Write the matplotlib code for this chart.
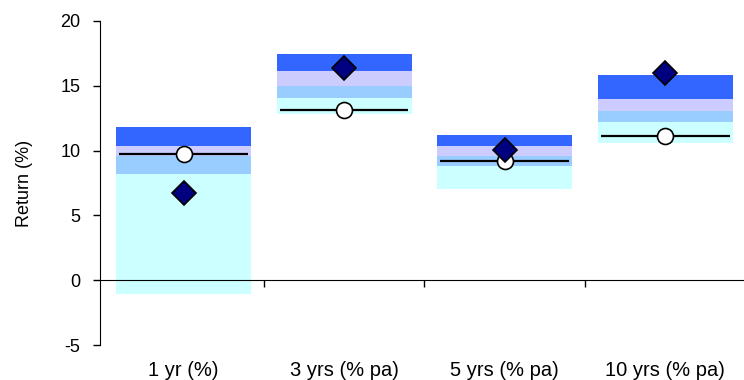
import numpy as np
import matplotlib.pyplot as plt

plt.rcParams["font.family"] = ["Liberation Sans", "DejaVu Sans"]
plt.rcParams["axes.unicode_minus"] = False

categories = ["1 yr (%)", "3 yrs (% pa)", "5 yrs (% pa)", "10 yrs (% pa)"]
# band edges: bottom, q1, median band, q3, top
bottom = [-1.1, 12.8, 7.07, 10.55]
edge1 = [8.18, 14.07, 8.80, 12.22]
edge2 = [9.59, 14.99, 9.59, 13.04]
edge3 = [10.36, 16.18, 10.36, 14.02]
top = [11.83, 17.44, 11.19, 15.82]
median = [9.77, 13.14, 9.21, 11.14]
fund = [6.69, 16.38, 10.08, 16.02]

band_colors = ["#CCFFFF", "#99CCFF", "#CCCCFF", "#3366FF"]

fig = plt.figure(figsize=(7.44, 3.8), dpi=100)
ax = fig.add_axes([100 / 744, 35 / 380, 644 / 744, 324 / 380])

x = np.arange(1, len(categories) + 1)
edges = [bottom, edge1, edge2, edge3, top]
for i in range(4):
    lo = np.array(edges[i])
    hi = np.array(edges[i + 1])
    ax.bar(x, hi - lo, bottom=lo, width=0.84, color=band_colors[i], linewidth=0, zorder=1)

ax.hlines(median, x - 0.4, x + 0.4, colors="black", linewidth=1.6, zorder=2)
ax.plot(x, median, "o", color="white", markeredgecolor="black", markeredgewidth=1.2,
        markersize=11.5, linestyle="none", zorder=3)
ax.plot(x, fund, "D", color="#000080", markeredgecolor="black", markeredgewidth=1.2,
        markersize=12, linestyle="none", zorder=4)

ax.set_xlim(0.48, 4.49)
ax.set_ylim(-5, 20)
ax.set_yticks([-5, 0, 5, 10, 15, 20])
ax.tick_params(axis="y", direction="out", length=5, labelsize=13, pad=9, width=1)
ax.set_ylabel("Return (%)", fontsize=13, labelpad=20)

ax.spines["top"].set_visible(False)
ax.spines["right"].set_visible(False)
ax.spines["bottom"].set_position(("data", 0))
ax.set_xticks([1.5, 2.5, 3.5])
ax.set_xticklabels([])
ax.tick_params(axis="x", direction="out", length=5, width=1)

for xi, lab in zip(x, categories):
    ax.annotate(lab, (xi, -5), xytext=(0, -18), textcoords="offset points",
                ha="center", va="center", fontsize=14.5, annotation_clip=False)

fig.savefig("out.png", dpi=100)
